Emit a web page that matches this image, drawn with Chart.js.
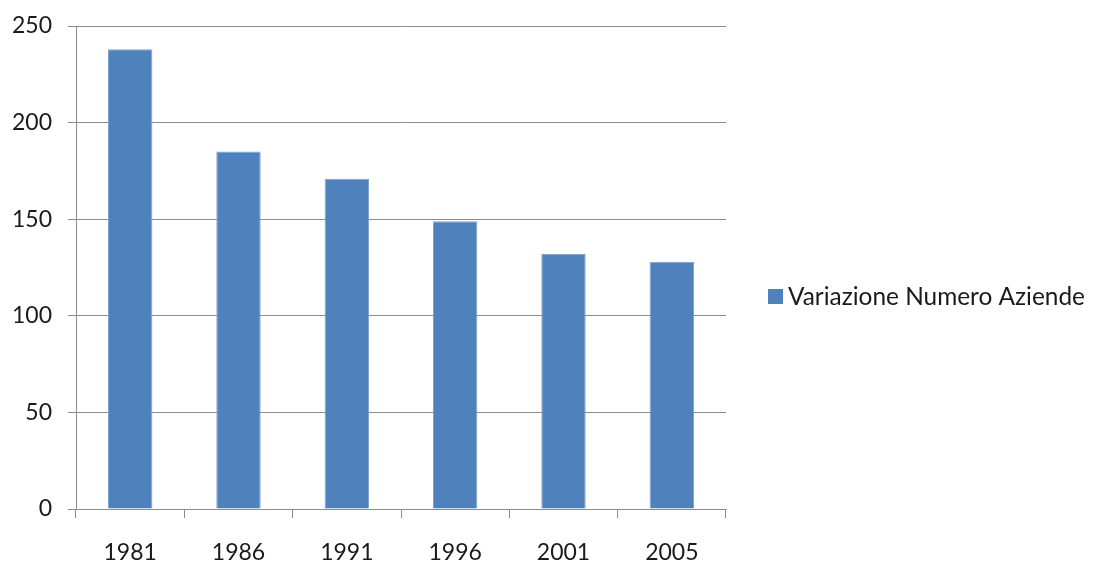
<!DOCTYPE html>
<html>
<head>
<meta charset="utf-8">
<script src="https://cdn.jsdelivr.net/npm/chart.js@4.4.0/dist/chart.umd.min.js"></script>
<style>
    html, body { margin: 0; padding: 0; background: #fff; }
    #wrap { width: 1093px; height: 561px; }
</style>
</head>
<body>
<div id="wrap"><canvas id="chart"></canvas></div>
<script>
// Data
const years = ['1981', '1986', '1991', '1996', '2001', '2005'];
const aziende = [238, 185, 171, 149, 132, 128];
const seriesLabel = 'Variazione Numero Aziende';
const yTicks = [0, 50, 100, 150, 200, 250];

const barColor = '#4F81BD';
const gridColor = '#8C8C8C';
const fontFamily = "Lato, 'Open Sans', sans-serif";

/**
 * Simple legend drawn to the right of the plot
 */
const sideLegend = {
    id: 'sideLegend',
    afterDraw(chart) {
        const ctx = chart.ctx;
        const ds = chart.data.datasets[0];
        ctx.save();
        ctx.fillStyle = ds.backgroundColor;
        ctx.fillRect(768, 289, 15, 15);
        ctx.fillStyle = '#1a1a1a';
        ctx.font = '24.4px ' + fontFamily;
        ctx.textBaseline = 'middle';
        ctx.textAlign = 'left';
        ctx.fillText(ds.label, 788, 297);
        ctx.restore();
    }
};

new Chart(document.getElementById('chart'), {
    type: 'bar',
    data: {
        labels: years,
        datasets: [{
            label: seriesLabel,
            data: aziende,
            backgroundColor: barColor,
            borderColor: '#7FA3D0',
            borderWidth: 1,
            barPercentage: 0.41,
            categoryPercentage: 1.0
        }]
    },
    options: {
        responsive: true,
        maintainAspectRatio: false,
        animation: false,
        layout: {
            padding: { left: 0, right: 367, top: 26, bottom: 0 }
        },
        plugins: {
            legend: { display: false },
            tooltip: { enabled: false }
        },
        scales: {
            x: {
                grid: {
                    display: true,
                    drawOnChartArea: false,
                    drawTicks: true,
                    tickLength: 9,
                    color: gridColor,
                    offset: true
                },
                border: { display: true, color: gridColor, width: 1 },
                ticks: {
                    color: '#1a1a1a',
                    font: { family: fontFamily, size: 23 },
                    padding: 21,
                    maxRotation: 0
                },
                afterFit(scale) {
                    scale.height = 52;
                    scale.paddingLeft = 0;
                    scale.paddingRight = 0;
                }
            },
            y: {
                min: 0,
                max: 250,
                afterBuildTicks(scale) {
                    scale.ticks = yTicks.map(v => ({ value: v }));
                },
                grid: {
                    color: gridColor,
                    lineWidth: 1,
                    drawTicks: true,
                    tickLength: 8
                },
                border: { display: true, color: gridColor, width: 1 },
                ticks: {
                    color: '#1a1a1a',
                    font: { family: fontFamily, size: 23 },
                    padding: 16
                },
                afterFit(scale) {
                    scale.width = 76;
                    scale.paddingTop = 0;
                    scale.paddingBottom = 0;
                }
            }
        }
    },
    plugins: [sideLegend]
});
</script>
</body>
</html>
